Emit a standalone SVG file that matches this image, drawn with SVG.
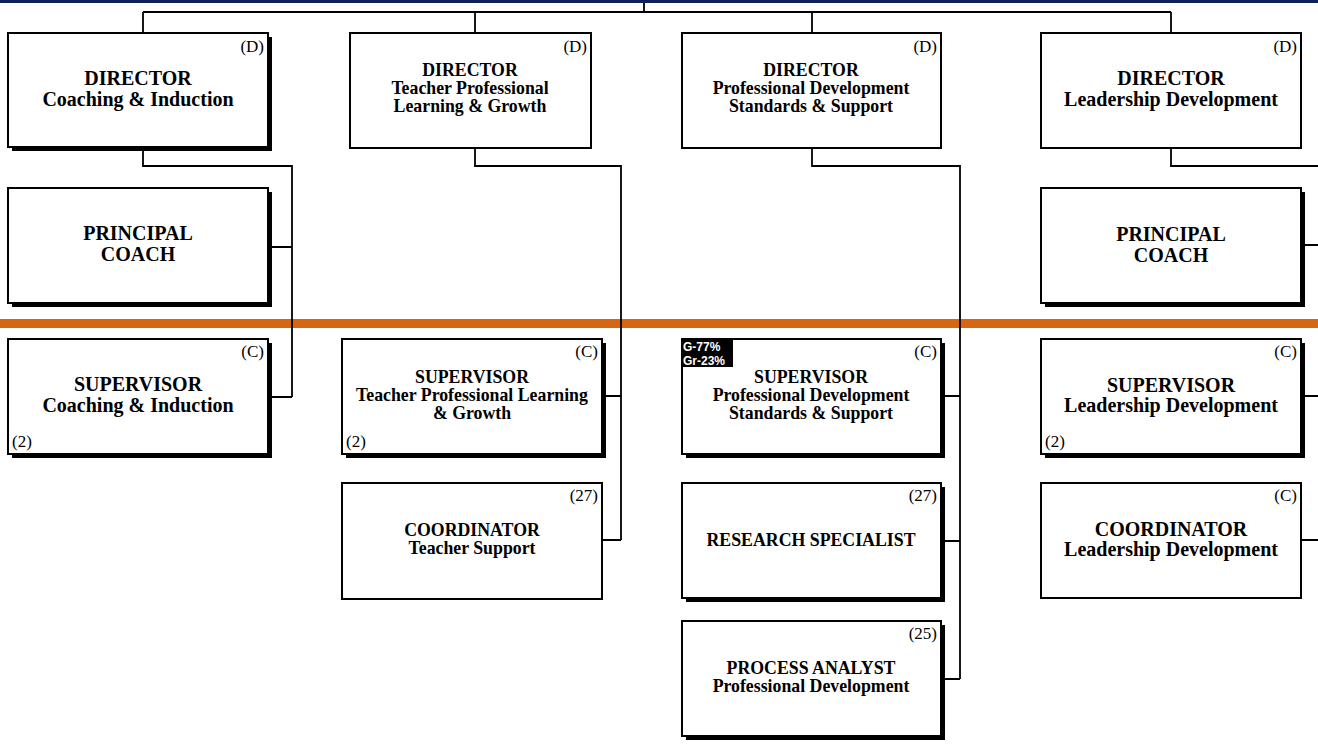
<svg xmlns="http://www.w3.org/2000/svg" width="1318" height="744" viewBox="0 0 1318 744">
<style>
.box{fill:#fff;stroke:#000;stroke-width:2}
.sh{fill:#000}
.conn{fill:none;stroke:#000;stroke-width:1.8}
.t{font-family:"Liberation Serif","Times New Roman",serif;font-weight:bold;text-anchor:middle;fill:#000}
.L{font-size:20px}
.S{font-size:17.8px}
.c{font-family:"Liberation Serif","Times New Roman",serif;font-size:17px;fill:#000}
.e{text-anchor:end}
.tag{font-family:"Liberation Sans",Arial,sans-serif;font-weight:bold;font-size:12px;fill:#fff}
</style>
<rect x="0" y="0" width="1318" height="744" fill="#fff"/>
<rect x="0" y="0" width="1318" height="3" fill="#10205a"/>
<rect x="0" y="319" width="1318" height="9" fill="#d76511"/>
<g id="connectors">
<path class="conn" d="M644 3V12M143 12H1171M143 12V33M475 12V33M812 12V33M1171 12V33"/>
<path class="conn" d="M143 148V166H292V397M268 247H292M268 397H292"/>
<path class="conn" d="M475 148V166H621V540M602 396H621M602 540H621"/>
<path class="conn" d="M812 148V166H960V679M941 396H960M941 541H960M941 679H960"/>
<path class="conn" d="M1171 148V166H1318M1301 245H1318M1301 396H1318M1301 540H1318"/>
</g>
<g id="dir-ci">
<rect class="sh" x="12" y="37" width="260" height="114"/>
<rect class="box" x="8" y="33" width="260" height="114"/>
<text class="c e" x="264" y="52">(D)</text>
<text class="t L" x="138" y="85">DIRECTOR</text>
<text class="t L" x="138" y="106">Coaching &amp; Induction</text>
</g>
<g id="dir-tplg">
<rect class="box" x="350" y="33" width="241" height="115"/>
<text class="c e" x="587" y="52">(D)</text>
<text class="t S" x="470" y="76">DIRECTOR</text>
<text class="t S" x="470" y="94">Teacher Professional</text>
<text class="t S" x="470" y="112">Learning &amp; Growth</text>
</g>
<g id="dir-pdss">
<rect class="box" x="682" y="33" width="259" height="115"/>
<text class="c e" x="937" y="52">(D)</text>
<text class="t S" x="811" y="76">DIRECTOR</text>
<text class="t S" x="811" y="94">Professional Development</text>
<text class="t S" x="811" y="112">Standards &amp; Support</text>
</g>
<g id="dir-ld">
<rect class="box" x="1041" y="33" width="260" height="115"/>
<text class="c e" x="1297" y="52">(D)</text>
<text class="t L" x="1171" y="85">DIRECTOR</text>
<text class="t L" x="1171" y="106">Leadership Development</text>
</g>
<g id="pc-left">
<rect class="sh" x="12" y="192" width="260" height="115"/>
<rect class="box" x="8" y="188" width="260" height="115"/>
<text class="t L" x="138" y="240">PRINCIPAL</text>
<text class="t L" x="138" y="261">COACH</text>
</g>
<g id="pc-right">
<rect class="sh" x="1045" y="192" width="260" height="115"/>
<rect class="box" x="1041" y="188" width="260" height="115"/>
<text class="t L" x="1171" y="241">PRINCIPAL</text>
<text class="t L" x="1171" y="262">COACH</text>
</g>
<g id="sup-ci">
<rect class="sh" x="12" y="343" width="260" height="115"/>
<rect class="box" x="8" y="339" width="260" height="115"/>
<text class="c e" x="264" y="357">(C)</text>
<text class="c" x="12" y="447">(2)</text>
<text class="t L" x="138" y="391">SUPERVISOR</text>
<text class="t L" x="138" y="412">Coaching &amp; Induction</text>
</g>
<g id="sup-tplg">
<rect class="sh" x="346" y="343" width="260" height="115"/>
<rect class="box" x="342" y="339" width="260" height="115"/>
<text class="c e" x="598" y="357">(C)</text>
<text class="c" x="346" y="447">(2)</text>
<text class="t S" x="472" y="383">SUPERVISOR</text>
<text class="t S" x="472" y="401">Teacher Professional Learning</text>
<text class="t S" x="472" y="419">&amp; Growth</text>
</g>
<g id="coord-ts">
<rect class="box" x="342" y="483" width="260" height="116"/>
<text class="c e" x="598" y="501">(27)</text>
<text class="t S" x="472" y="536">COORDINATOR</text>
<text class="t S" x="472" y="554">Teacher Support</text>
</g>
<g id="sup-pdss">
<rect class="sh" x="686" y="343" width="259" height="115"/>
<rect class="box" x="682" y="339" width="259" height="115"/>
<rect x="682" y="339" width="51" height="28" fill="#000"/>
<text class="tag" x="683" y="351">G-77%</text>
<text class="tag" x="683" y="365">Gr-23%</text>
<text class="c e" x="937" y="357">(C)</text>
<text class="t S" x="811" y="383">SUPERVISOR</text>
<text class="t S" x="811" y="401">Professional Development</text>
<text class="t S" x="811" y="419">Standards &amp; Support</text>
</g>
<g id="research">
<rect class="sh" x="686" y="487" width="259" height="115"/>
<rect class="box" x="682" y="483" width="259" height="115"/>
<text class="c e" x="937" y="501">(27)</text>
<text class="t S" x="811" y="546">RESEARCH SPECIALIST</text>
</g>
<g id="process">
<rect class="sh" x="686" y="625" width="259" height="115"/>
<rect class="box" x="682" y="621" width="259" height="115"/>
<text class="c e" x="937" y="639">(25)</text>
<text class="t S" x="811" y="674">PROCESS ANALYST</text>
<text class="t S" x="811" y="692">Professional Development</text>
</g>
<g id="sup-ld">
<rect class="sh" x="1045" y="343" width="260" height="115"/>
<rect class="box" x="1041" y="339" width="260" height="115"/>
<text class="c e" x="1297" y="357">(C)</text>
<text class="c" x="1045" y="447">(2)</text>
<text class="t L" x="1171" y="392">SUPERVISOR</text>
<text class="t L" x="1171" y="412">Leadership Development</text>
</g>
<g id="coord-ld">
<rect class="box" x="1041" y="483" width="260" height="115"/>
<text class="c e" x="1297" y="501">(C)</text>
<text class="t L" x="1171" y="536">COORDINATOR</text>
<text class="t L" x="1171" y="556">Leadership Development</text>
</g>
</svg>
